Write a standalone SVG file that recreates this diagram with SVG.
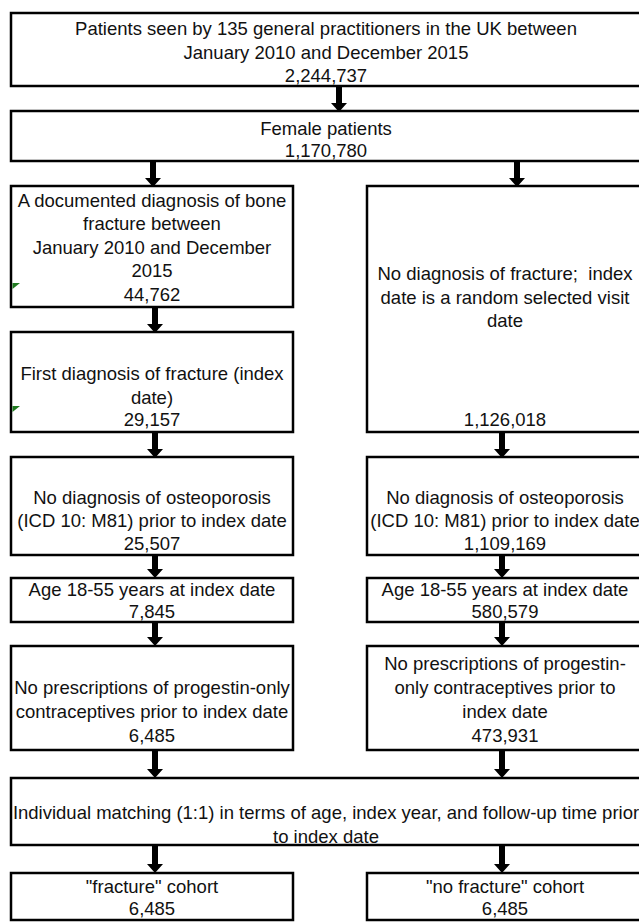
<svg xmlns="http://www.w3.org/2000/svg" width="639" height="923" viewBox="0 0 639 923">
<defs>
<style>
.box{fill:#fff;stroke:#000;stroke-width:2.5}
.t{font-family:"Liberation Sans",Arial,sans-serif;font-size:18.5px;fill:#111;text-anchor:middle;dominant-baseline:central;white-space:pre}
.arr{fill:#000}
.g{fill:#1f7a1f}
</style>
</defs>
<rect width="639" height="923" fill="#fff"/>
<g id="connectors">
<path class="arr" d="M336,86 h6 v17 h5 l-8,9 l-8,-9 h5 z"/>
<path class="arr" d="M150,161 h6 v17 h5 l-8,9 l-8,-9 h5 z"/>
<path class="arr" d="M514,161 h6 v17 h5 l-8,9 l-8,-9 h5 z"/>
<path class="arr" d="M152,307 h6 v17 h5 l-8,9 l-8,-9 h5 z"/>
<path class="arr" d="M152,432 h6 v17 h5 l-8,9 l-8,-9 h5 z"/>
<path class="arr" d="M499,432 h6 v17 h5 l-8,9 l-8,-9 h5 z"/>
<path class="arr" d="M152,555 h6 v14 h5 l-8,9 l-8,-9 h5 z"/>
<path class="arr" d="M499,555 h6 v14 h5 l-8,9 l-8,-9 h5 z"/>
<path class="arr" d="M152,622 h6 v15 h5 l-8,9 l-8,-9 h5 z"/>
<path class="arr" d="M499,622 h6 v15 h5 l-8,9 l-8,-9 h5 z"/>
<path class="arr" d="M152,750 h6 v19 h5 l-8,9 l-8,-9 h5 z"/>
<path class="arr" d="M499,750 h6 v19 h5 l-8,9 l-8,-9 h5 z"/>
<path class="arr" d="M152,845 h6 v19 h5 l-8,9 l-8,-9 h5 z"/>
<path class="arr" d="M499,845 h6 v19 h5 l-8,9 l-8,-9 h5 z"/>
</g>
<g id="n1">
<rect class="box" x="11" y="13" width="631" height="73"/>
<text class="t" x="326" y="28">Patients seen by 135 general practitioners in the UK between</text>
<text class="t" x="326" y="52">January 2010 and December 2015</text>
<text class="t" x="326" y="75">2,244,737</text>
</g>
<g id="n2">
<rect class="box" x="11" y="111" width="631" height="50"/>
<text class="t" x="326" y="128">Female patients</text>
<text class="t" x="326" y="150">1,170,780</text>
</g>
<g id="n3">
<rect class="box" x="11" y="186" width="282" height="121"/>
<text class="t" x="152" y="200">A documented diagnosis of bone</text>
<text class="t" x="152" y="223">fracture between</text>
<text class="t" x="152" y="247">January 2010 and December</text>
<text class="t" x="152" y="270">2015</text>
<text class="t" x="152" y="294">44,762</text>
<polygon class="g" points="12.5,283 20,283 12.5,289"/>
</g>
<g id="n4">
<rect class="box" x="11" y="332" width="282" height="100"/>
<text class="t" x="152" y="373">First diagnosis of fracture (index</text>
<text class="t" x="152" y="397">date)</text>
<text class="t" x="152" y="419">29,157</text>
<polygon class="g" points="12.5,406 20,406 12.5,412"/>
</g>
<g id="n5">
<rect class="box" x="367" y="186" width="276" height="246"/>
<text class="t" x="505" y="273">No diagnosis of fracture;  index</text>
<text class="t" x="505" y="297">date is a random selected visit</text>
<text class="t" x="505" y="320">date</text>
<text class="t" x="505" y="419">1,126,018</text>
</g>
<g id="n6">
<rect class="box" x="11" y="457" width="282" height="98"/>
<text class="t" x="152" y="497">No diagnosis of osteoporosis</text>
<text class="t" x="152" y="520">(ICD 10: M81) prior to index date</text>
<text class="t" x="152" y="543">25,507</text>
</g>
<g id="n7">
<rect class="box" x="367" y="457" width="276" height="98"/>
<text class="t" x="505" y="497">No diagnosis of osteoporosis</text>
<text class="t" x="505" y="520">(ICD 10: M81) prior to index date</text>
<text class="t" x="505" y="543">1,109,169</text>
</g>
<g id="n8">
<rect class="box" x="11" y="578" width="282" height="44"/>
<text class="t" x="152" y="589">Age 18-55 years at index date</text>
<text class="t" x="152" y="611">7,845</text>
</g>
<g id="n9">
<rect class="box" x="367" y="578" width="276" height="44"/>
<text class="t" x="505" y="589">Age 18-55 years at index date</text>
<text class="t" x="505" y="611">580,579</text>
</g>
<g id="n10">
<rect class="box" x="11" y="646" width="282" height="104"/>
<text class="t" x="152" y="687">No prescriptions of progestin-only</text>
<text class="t" x="152" y="711">contraceptives prior to index date</text>
<text class="t" x="152" y="735">6,485</text>
</g>
<g id="n11">
<rect class="box" x="367" y="646" width="276" height="104"/>
<text class="t" x="505" y="663">No prescriptions of progestin-</text>
<text class="t" x="505" y="687">only contraceptives prior to</text>
<text class="t" x="505" y="711">index date</text>
<text class="t" x="505" y="735">473,931</text>
</g>
<g id="n12">
<rect class="box" x="11" y="778" width="631" height="67"/>
<text class="t" x="326" y="812">Individual matching (1:1) in terms of age, index year, and follow-up time prior</text>
<text class="t" x="326" y="836">to index date</text>
</g>
<g id="n13">
<rect class="box" x="11" y="873" width="282" height="47"/>
<text class="t" x="152" y="886">"fracture" cohort</text>
<text class="t" x="152" y="908">6,485</text>
</g>
<g id="n14">
<rect class="box" x="367" y="873" width="276" height="47"/>
<text class="t" x="505" y="886">"no fracture" cohort</text>
<text class="t" x="505" y="908">6,485</text>
</g>
</svg>
